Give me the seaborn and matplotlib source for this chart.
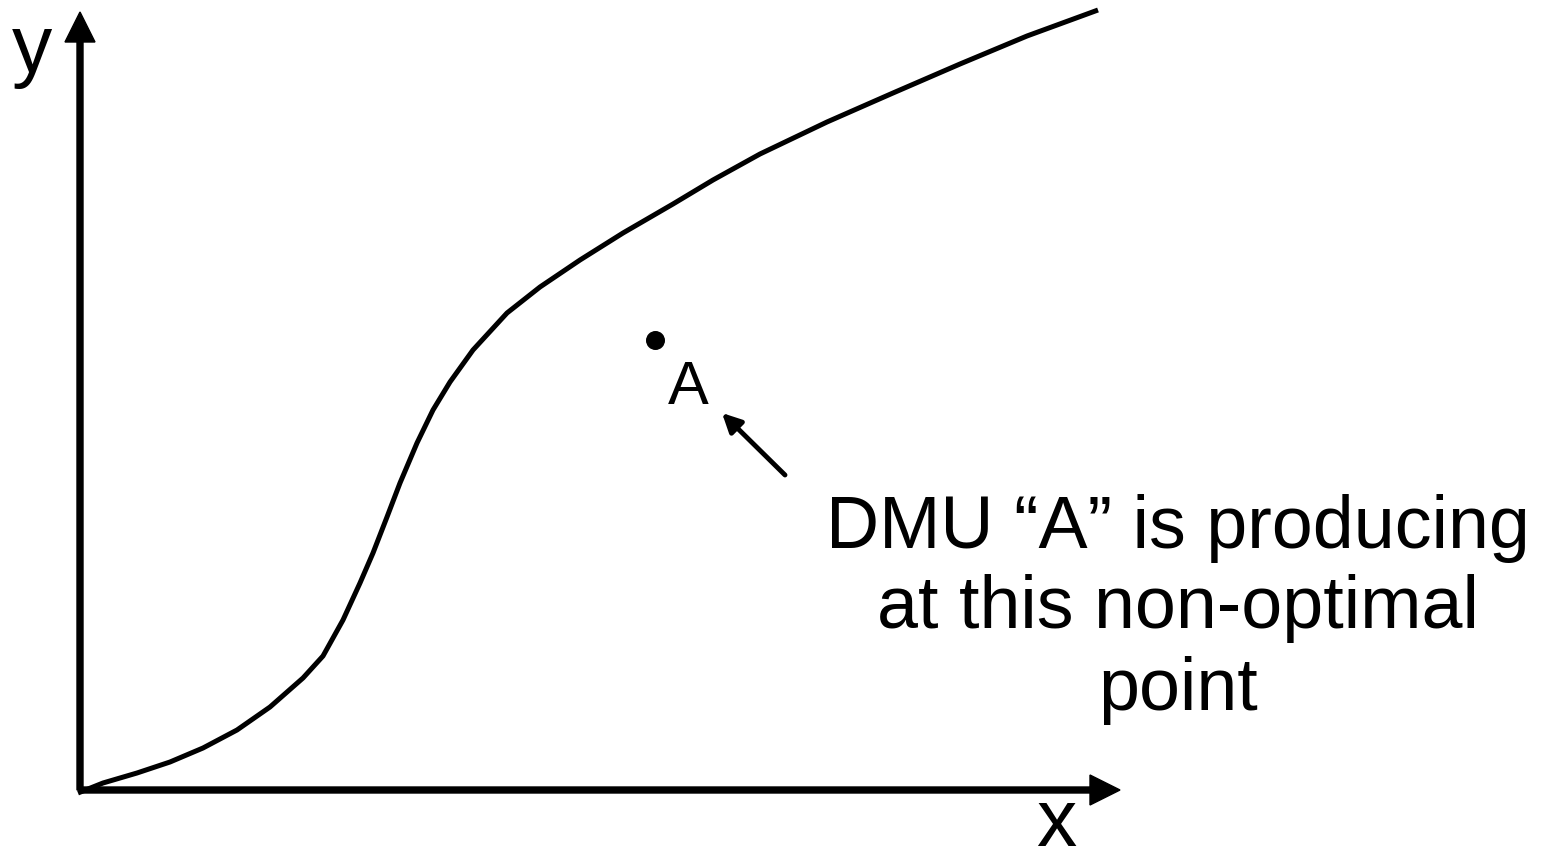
import pandas as pd
import matplotlib.pyplot as plt
import seaborn as sns

# --- data (x, y in arbitrary units, origin at the axes corner) ---
CURVE_X = [-0.02, 0.23, 0.57, 0.90, 1.23, 1.57, 1.90, 2.23, 2.43, 2.63, 2.80,
           2.93, 3.07, 3.20, 3.37, 3.53, 3.70, 3.93, 4.27, 4.60, 5.00, 5.43,
           5.93, 6.33, 6.80, 7.47, 8.13, 8.80, 9.47, 10.18]
CURVE_Y = [-0.03, 0.07, 0.17, 0.28, 0.42, 0.60, 0.83, 1.12, 1.34, 1.70, 2.07,
           2.37, 2.73, 3.07, 3.47, 3.80, 4.08, 4.40, 4.77, 5.03, 5.30, 5.57,
           5.86, 6.10, 6.36, 6.68, 6.97, 7.26, 7.54, 7.80]
POINT_A = (5.75, 4.50)
X_AXIS_END = 10.40
Y_AXIS_END = 7.78
NOTE_LINES = ["DMU \u201cA\u201d is producing", "at this non-optimal", "point"]

sns.set_theme(style="white")
plt.rcParams['font.family'] = ['Liberation Sans', 'DejaVu Sans']
plt.rcParams['text.color'] = 'black'

fig = plt.figure(figsize=(15.45, 8.64), dpi=100)
ax = fig.add_axes([0, 0, 1, 1])
ax.set_xlim(-0.80, 14.65)
ax.set_ylim(-0.74, 7.90)
ax.set_axis_off()

# frontier curve
df = pd.DataFrame({'x': CURVE_X, 'y': CURVE_Y})
sns.lineplot(data=df, x='x', y='y', color='black', linewidth=3.6, sort=False,
             solid_joinstyle='round', solid_capstyle='butt', ax=ax)

# axes arrows
ax.arrow(0, 0, 0, Y_AXIS_END, width=0.06, head_width=0.30, head_length=0.30,
         length_includes_head=True, color='black')
ax.arrow(0, 0, X_AXIS_END, 0, width=0.06, head_width=0.30, head_length=0.30,
         length_includes_head=True, color='black')
ax.text(-0.48, 7.18, "y", fontsize=58, ha='center', va='baseline', color='black')
ax.text(9.76, -0.735, "x", fontsize=58, ha='center', va='bottom', color='black')

# point A
sns.scatterplot(x=[POINT_A[0]], y=[POINT_A[1]], color='black', s=160,
                edgecolor='black', ax=ax, legend=False)
ax.text(6.08, 3.86, "A", fontsize=44, ha='center', va='baseline', color='black')

ax.annotate("", xy=(6.42, 3.77), xytext=(7.05, 3.15),
            arrowprops=dict(arrowstyle='-|>', color='black', lw=3.5,
                            mutation_scale=28, shrinkA=0, shrinkB=0))

# note text
for line, yb in zip(NOTE_LINES, [2.42, 1.62, 0.80]):
    ax.text(10.98, yb, line, fontsize=53, ha='center', va='baseline', color='black')

fig.savefig("out.png", dpi=100)
